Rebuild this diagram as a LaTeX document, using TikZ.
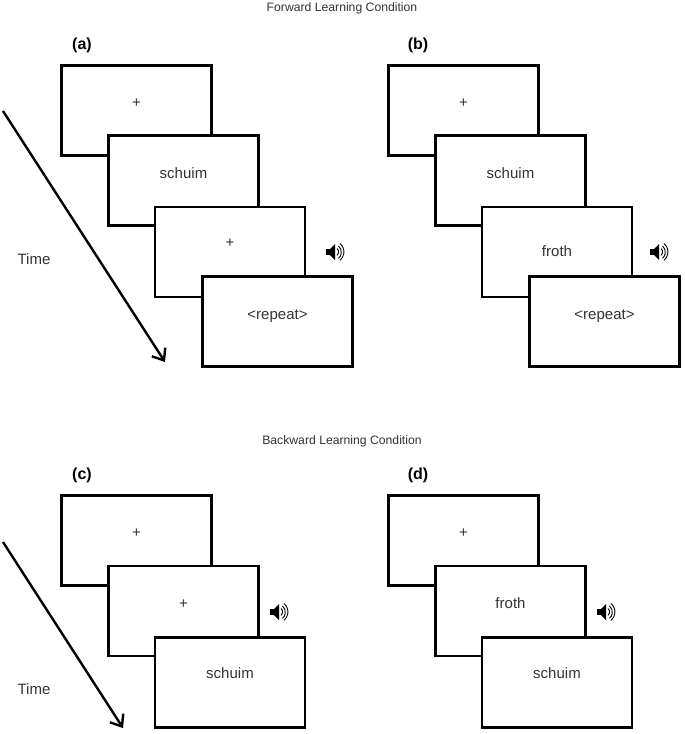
\documentclass[tikz,border=0pt]{standalone}
\usepackage{fontspec}
\setmainfont{Liberation Sans}
\usetikzlibrary{arrows.meta}
\begin{document}
\begin{tikzpicture}[x=1pt,y=-1pt,
  scr/.style={draw,line width=2.4pt,fill=white,minimum width=150pt,minimum height=90pt,inner sep=0pt,
    font=\fontsize{15}{17}\selectfont\color{black!80},text height=8pt},
  lab/.style={font=\bfseries\fontsize{16}{18}\selectfont},
  ttl/.style={font=\fontsize{12.2}{14}\selectfont\color{black!80}},
  tm/.style={font=\fontsize{15}{17}\selectfont\color{black!80}},
  arr/.style={line width=2.4pt,-{Straight Barb[length=10pt,width=16pt,line width=2.4pt]}}]
\useasboundingbox (0,0) rectangle (685,734);
\newcommand{\spkr}[3]{%
  \node[inner sep=0,minimum size=20pt] (#3) at (#1,#2) {};
  \begin{scope}[shift={(#1,#2)}]
   \fill (-8,-3) rectangle (-4,3);
   \fill (-4,-3) -- (1,-8) -- (1,8) -- (-4,3) -- cycle;
   \draw[line width=0.9pt] (3,-3.5) arc (-50:50:4.5);
   \draw[line width=0.9pt] (4.5,-6) arc (-50:50:8);
   \draw[line width=0.9pt] (6,-8.5) arc (-50:50:11);
  \end{scope}}
% titles
\node[ttl] (t1) at (342,8) {Forward Learning Condition};
\node[ttl] (t2) at (342,441) {Backward Learning Condition};
% (a)
\node[lab] (la) at (82,45) {(a)};
\node[scr,text depth=15pt] (a1) at (136.5,110.5) {+};
\node[scr,text depth=13pt] (a2) at (183.5,180.5) {schuim};
\node[scr,text depth=18pt] (a3) at (230,252) {+};
\node[scr,text depth=13pt] (a4) at (277.5,321.5) {{<}repeat{>}};
\coordinate (as) at (3,111); \coordinate (ae) at (165,362);
\draw[arr] (as) -- (ae);
\node[tm] (ta) at (34,259) {Time};
\spkr{334}{252}{sa}
% (b)
\node[lab] (lb) at (418,45) {(b)};
\node[scr,text depth=15pt] (b1) at (463.5,110.5) {+};
\node[scr,text depth=13pt] (b2) at (510.5,180.5) {schuim};
\node[scr,text depth=0pt] (b3) at (557,252) {froth};
\node[scr,text depth=13pt] (b4) at (604.5,321.5) {{<}repeat{>}};
\spkr{658}{252}{sb}
% (c)
\node[lab] (lc) at (82,475) {(c)};
\node[scr,text depth=15pt] (c1) at (136.5,540.5) {+};
\node[scr,text depth=14pt] (c2) at (183.5,611) {+};
\node[scr,text depth=17pt] (c3) at (230,682.5) {schuim};
\coordinate (cs) at (3,542); \coordinate (ce) at (123,728);
\draw[arr] (cs) -- (ce);
\node[tm] (tc) at (34,689) {Time};
\spkr{278}{612}{sc}
% (d)
\node[lab] (ld) at (418,475) {(d)};
\node[scr,text depth=15pt] (d1) at (463.5,540.5) {+};
\node[scr,text depth=14pt] (d2) at (510.5,611) {froth};
\node[scr,text depth=17pt] (d3) at (557,682.5) {schuim};
\spkr{605}{612}{sd}
\end{tikzpicture}
\end{document}
